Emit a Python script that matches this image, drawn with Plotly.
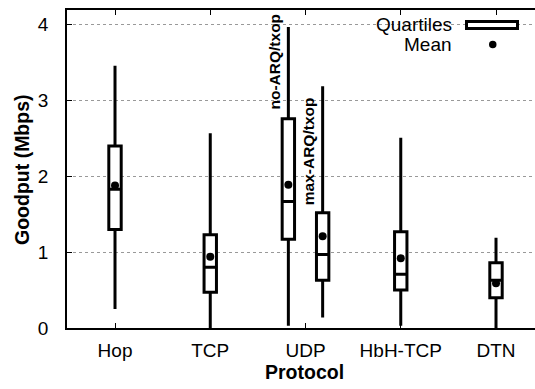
import plotly.graph_objects as go

# ---- data ----
protocols = ["Hop", "TCP", "UDP", "HbH-TCP", "DTN"]
series_protocol = ["Hop", "TCP", "UDP", "UDP", "HbH-TCP", "DTN"]
series_variant = ["", "", "no-ARQ/txop", "max-ARQ/txop", "", ""]
lower_whisker = [0.25, 0.00, 0.03, 0.14, 0.03, 0.00]
q1_values = [1.30, 0.47, 1.17, 0.63, 0.50, 0.40]
median_values = [1.83, 0.80, 1.67, 0.97, 0.71, 0.63]
q3_values = [2.40, 1.23, 2.76, 1.52, 1.27, 0.86]
upper_whisker = [3.46, 2.57, 3.97, 3.19, 2.51, 1.19]
mean_values = [1.88, 0.94, 1.89, 1.21, 0.92, 0.59]
variant_label_y = [None, None, 3.51, 2.33, None, None]
y_ticks = [0, 1, 2, 3, 4]

# ---- layout helpers ----
variant_offset = {"": 0.0, "no-ARQ/txop": -0.18, "max-ARQ/txop": 0.18}
positions = [protocols.index(p) + 1 + variant_offset[v]
             for p, v in zip(series_protocol, series_variant)]

FONT = "Liberation Sans, Arial, Helvetica, sans-serif"
W, H = 535, 389
ML, MR, MT, MB = 67, 0, 10, 61
PW, PH = W - ML - MR, H - MT - MB

def px(xp):
    return (xp - ML) / PW

def py(yp):
    return (H - MB - yp) / PH

fig = go.Figure()

for i, x in enumerate(positions):
    fig.add_trace(go.Box(
        x=[x], q1=[q1_values[i]], median=[median_values[i]], q3=[q3_values[i]],
        lowerfence=[lower_whisker[i]], upperfence=[upper_whisker[i]],
        width=0.13, whiskerwidth=0, boxpoints=False,
        fillcolor="white", line=dict(color="black", width=3),
        showlegend=False, hoverinfo="skip",
    ))

fig.add_trace(go.Scatter(
    x=positions, y=mean_values, mode="markers",
    marker=dict(color="black", size=8, symbol="circle"),
    showlegend=False, hoverinfo="skip",
))

# variant labels (rotated) beside UDP whiskers
for x, v, ly in zip(positions, series_variant, variant_label_y):
    if v:
        fig.add_annotation(
            x=x - 0.145, y=ly, xref="x", yref="y", text="<b>%s</b>" % v,
            textangle=-90, showarrow=False, xanchor="center", yanchor="middle",
            font=dict(family=FONT, size=15.5, color="black"),
        )

# axis titles
fig.add_annotation(x=px(22), y=py(170), xref="paper", yref="paper",
                   xanchor="center", yanchor="middle",
                   text="<b>Goodput (Mbps)</b>", textangle=-90, showarrow=False,
                   font=dict(family=FONT, size=19.5, color="black"))
fig.add_annotation(x=px(304.5), y=py(372), xref="paper", yref="paper",
                   xanchor="center", yanchor="middle",
                   text="<b>Protocol</b>", showarrow=False,
                   font=dict(family=FONT, size=19.5, color="black"))

# legend (key on the right of the text, as in the reference)
fig.add_annotation(x=px(454), y=py(24.5), xref="paper", yref="paper",
                   text="Quartiles", showarrow=False, xanchor="right", yanchor="middle",
                   font=dict(family=FONT, size=19, color="black"))
fig.add_annotation(x=px(454), y=py(44.5), xref="paper", yref="paper",
                   text="Mean", showarrow=False, xanchor="right", yanchor="middle",
                   font=dict(family=FONT, size=19, color="black"))
fig.add_shape(type="rect", xref="paper", yref="paper",
              x0=px(466.5), x1=px(517.5), y0=py(28.5), y1=py(21.5),
              line=dict(color="black", width=3), fillcolor="white")
fig.add_shape(type="circle", xref="paper", yref="paper",
              x0=px(489), x1=px(496.5), y0=py(48.3), y1=py(40.8),
              line=dict(color="black", width=0), fillcolor="black")

fig.update_layout(
    width=W, height=H,
    margin=dict(l=ML, r=MR, t=MT, b=MB, pad=0),
    paper_bgcolor="white", plot_bgcolor="white",
    font=dict(family=FONT, size=19, color="black"),
    showlegend=False,
)
fig.update_xaxes(
    range=[0.496, 0.496 + PW / 95.25],
    tickvals=list(range(1, len(protocols) + 1)), ticktext=protocols,
    ticks="inside", ticklen=5, tickwidth=1, tickcolor="black",
    showline=True, linecolor="black", linewidth=1.5, mirror="ticks",
    showgrid=False, zeroline=False, ticklabelstandoff=4,
    tickfont=dict(family=FONT, size=19, color="black"),
)
fig.update_yaxes(
    range=[0, 4.195], tickvals=y_ticks,
    ticks="inside", ticklen=5, tickwidth=1, tickcolor="black",
    showline=True, linecolor="black", linewidth=1.5, mirror=False,
    showgrid=True, gridcolor="#999999", gridwidth=1, griddash="dot",
    zeroline=False, ticklabelstandoff=13,
    tickfont=dict(family=FONT, size=19, color="black"),
)

fig.write_html("out.html")
